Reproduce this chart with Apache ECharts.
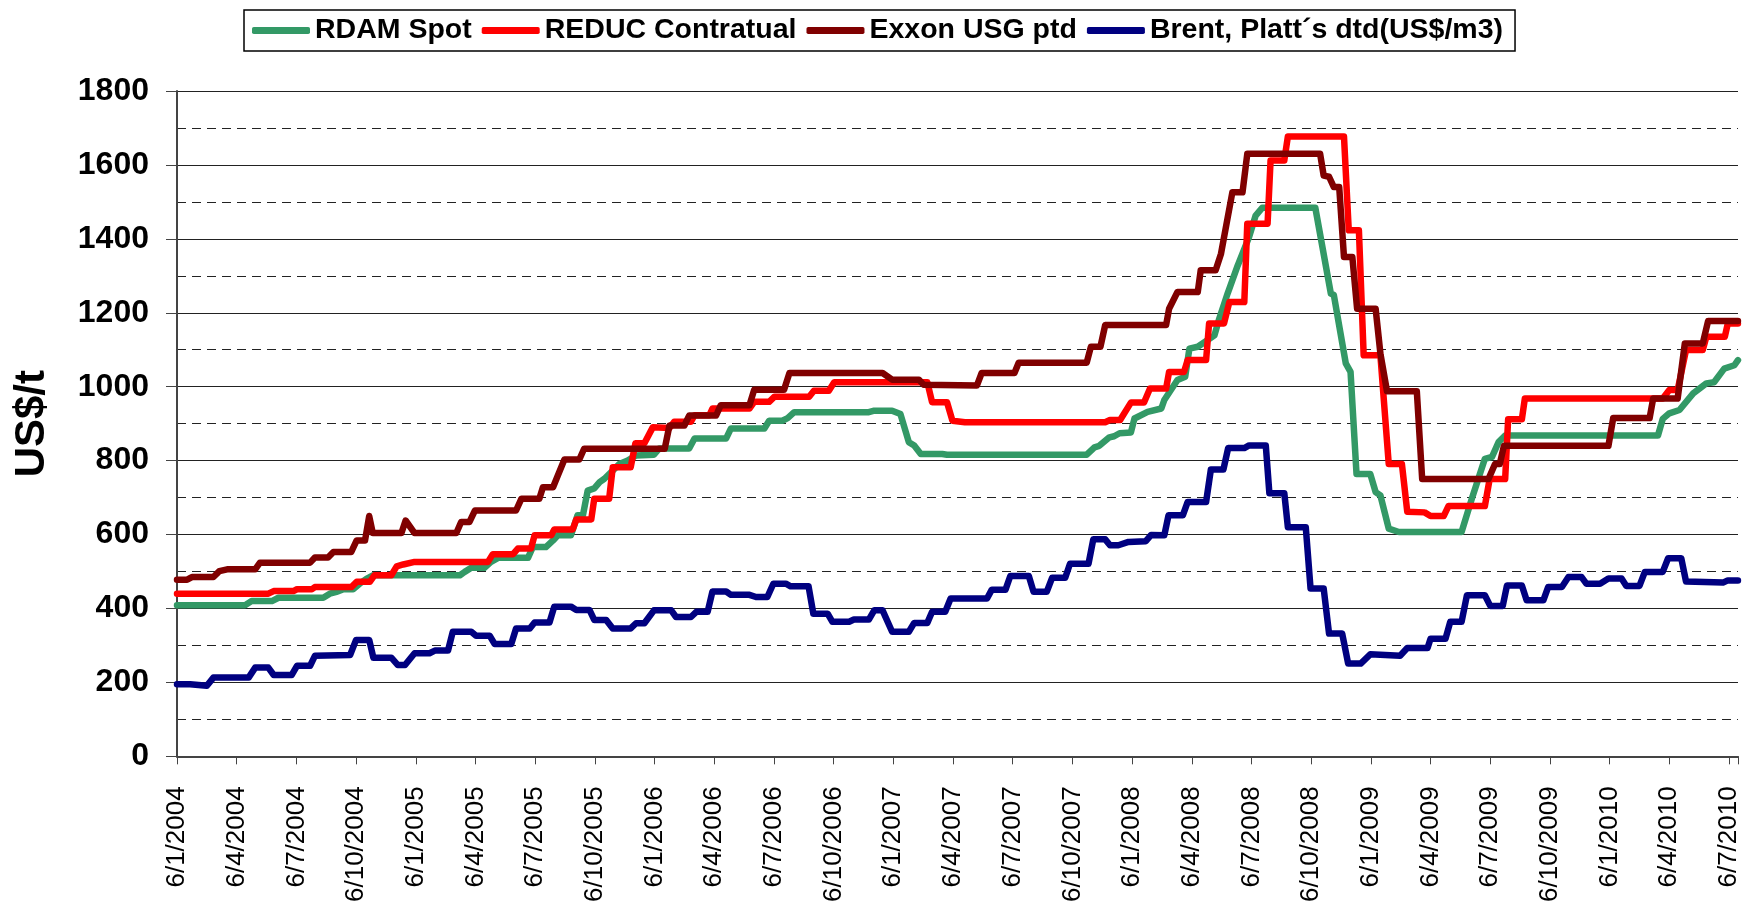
<!DOCTYPE html>
<html lang="en">
<head>
    <meta charset="UTF-8">
    <title>RDAM / REDUC / Exxon / Brent</title>
    <style>
        html,
        body,
        #chart {
            margin: 0px;
            padding: 0px;
            width: 100%;
            height: 100%;
            background: #fff;
        }
    </style>
</head>
<body>
    <div id="chart"></div>
    <script src="https://cdn.jsdelivr.net/npm/echarts@6/dist/echarts.min.js"></script>
    <script>
        // x is counted in quarters from 6/1/2004 (one tick per quarter)
        var tickLabels = [
            '6/1/2004', '6/4/2004', '6/7/2004', '6/10/2004',
            '6/1/2005', '6/4/2005', '6/7/2005', '6/10/2005',
            '6/1/2006', '6/4/2006', '6/7/2006', '6/10/2006',
            '6/1/2007', '6/4/2007', '6/7/2007', '6/10/2007',
            '6/1/2008', '6/4/2008', '6/7/2008', '6/10/2008',
            '6/1/2009', '6/4/2009', '6/7/2009', '6/10/2009',
            '6/1/2010', '6/4/2010', '6/7/2010'
        ];

        var seriesNames = ['RDAM Spot', 'REDUC Contratual', 'Exxon USG ptd', 'Brent, Platt´s dtd(US$/m3)'];
        var seriesColors = ['#339966', '#ff0000', '#800000', '#000080'];

        // [quarter, US$/t] at the points where the lines change
        var rdamSpot = [
            [0, 409], [1.14, 409], [1.25, 420], [1.59, 420], [1.70, 429], [2.45, 429], [2.56, 440], [2.67, 445],
            [2.79, 452], [2.95, 452], [3.06, 467], [3.18, 481], [3.29, 490], [4.74, 490], [4.82, 499], [4.93, 510],
            [5.15, 510], [5.26, 526], [5.38, 537], [5.88, 537], [5.96, 566], [6.18, 566], [6.30, 584], [6.38, 598],
            [6.60, 598], [6.71, 652], [6.80, 652], [6.88, 719], [6.99, 725], [7.08, 742], [7.16, 751], [7.30, 773],
            [7.41, 791], [7.55, 800], [7.69, 814], [7.99, 816], [8.08, 833], [8.58, 833], [8.67, 860], [9.20, 860],
            [9.28, 887], [9.84, 887], [9.92, 908], [10.14, 908], [10.23, 915], [10.34, 931], [11.59, 931], [11.68, 935],
            [11.98, 935], [12.12, 926], [12.26, 850], [12.35, 841], [12.46, 818], [12.82, 818], [12.90, 816], [15.24, 816],
            [15.37, 836], [15.45, 840], [15.62, 863], [15.70, 866], [15.79, 874], [15.98, 876], [16.04, 914], [16.26, 932],
            [16.49, 941], [16.54, 964], [16.76, 1018], [16.89, 1027], [16.96, 1103], [17.10, 1108], [17.38, 1139], [17.46, 1184],
            [17.60, 1252], [17.77, 1328], [17.96, 1405], [18.07, 1463], [18.18, 1484], [19.07, 1484], [19.33, 1252], [19.38, 1248],
            [19.58, 1063], [19.66, 1040], [19.76, 764], [19.99, 764], [20.08, 715], [20.16, 706], [20.30, 616], [20.47, 607],
            [21.52, 607], [21.69, 696], [21.91, 805], [22.03, 810], [22.14, 850], [22.25, 868], [24.81, 868], [24.89, 913],
            [25.00, 928], [25.17, 937], [25.40, 982], [25.62, 1009], [25.75, 1012], [25.92, 1049], [26.09, 1058], [26.15, 1072]
        ];

        var reducContratual = [
            [0, 440], [1.53, 440], [1.62, 447], [1.95, 447], [2.01, 452], [2.26, 452], [2.31, 458], [2.92, 458],
            [3.01, 472], [3.23, 472], [3.31, 490], [3.59, 490], [3.68, 514], [3.79, 519], [3.98, 526], [5.21, 526],
            [5.29, 547], [5.63, 547], [5.71, 562], [5.93, 562], [5.99, 598], [6.27, 598], [6.32, 614], [6.63, 614],
            [6.69, 641], [6.94, 641], [6.99, 697], [7.24, 697], [7.30, 782], [7.60, 782], [7.68, 847], [7.83, 847],
            [7.97, 890], [8.25, 888], [8.33, 905], [8.61, 905], [8.67, 923], [8.92, 923], [8.97, 941], [9.59, 941],
            [9.67, 959], [9.92, 959], [10.01, 973], [10.59, 973], [10.67, 989], [10.92, 989], [11.01, 1012], [12.57, 1012],
            [12.65, 958], [12.90, 958], [12.99, 908], [13.20, 904], [15.55, 904], [15.63, 910], [15.80, 910], [15.98, 957],
            [16.20, 957], [16.30, 995], [16.57, 995], [16.62, 1040], [16.87, 1040], [16.93, 1072], [17.24, 1072], [17.29, 1171],
            [17.54, 1171], [17.63, 1229], [17.88, 1229], [17.93, 1441], [18.27, 1441], [18.32, 1612], [18.55, 1612], [18.61, 1677],
            [19.55, 1677], [19.63, 1423], [19.80, 1423], [19.88, 1085], [20.16, 1085], [20.30, 791], [20.52, 791], [20.61, 662],
            [20.90, 660], [21.00, 650], [21.22, 650], [21.30, 677], [21.91, 677], [21.99, 750], [22.25, 750], [22.30, 912],
            [22.53, 912], [22.58, 968], [24.89, 968], [25.00, 991], [25.14, 991], [25.28, 1099], [25.56, 1099], [25.62, 1135],
            [25.93, 1135], [25.98, 1171], [26.15, 1171]
        ];

        var exxonUsg = [
            [0, 478], [0.17, 478], [0.25, 485], [0.61, 485], [0.71, 501], [0.84, 506], [1.31, 506], [1.39, 524],
            [2.23, 524], [2.31, 538], [2.53, 538], [2.62, 553], [2.92, 553], [3.01, 584], [3.15, 584], [3.22, 650],
            [3.28, 604], [3.76, 604], [3.83, 638], [3.98, 604], [4.68, 604], [4.76, 634], [4.90, 634], [4.99, 665],
            [5.68, 665], [5.77, 697], [6.07, 697], [6.13, 728], [6.30, 728], [6.38, 760], [6.49, 803], [6.74, 803],
            [6.82, 832], [8.17, 832], [8.25, 895], [8.50, 895], [8.58, 922], [9.03, 922], [9.11, 950], [9.59, 950],
            [9.67, 992], [10.17, 992], [10.26, 1037], [11.82, 1037], [11.98, 1019], [12.43, 1019], [12.51, 1005], [13.40, 1003],
            [13.48, 1037], [14.03, 1037], [14.10, 1065], [15.24, 1065], [15.31, 1108], [15.47, 1108], [15.55, 1167], [16.57, 1167],
            [16.62, 1211], [16.76, 1256], [17.10, 1256], [17.15, 1315], [17.40, 1315], [17.49, 1360], [17.68, 1526], [17.85, 1526],
            [17.93, 1630], [19.15, 1630], [19.21, 1571], [19.30, 1568], [19.38, 1540], [19.47, 1540], [19.55, 1351], [19.69, 1351],
            [19.77, 1211], [20.08, 1211], [20.16, 1090], [20.27, 988], [20.77, 988], [20.86, 750], [21.97, 750], [22.08, 791],
            [22.16, 791], [22.23, 840], [23.98, 840], [24.06, 915], [24.67, 915], [24.73, 968], [25.14, 968], [25.26, 1117],
            [25.56, 1117], [25.65, 1178], [26.15, 1178]
        ];

        var brentDtd = [
            [0, 195], [0.22, 195], [0.50, 191], [0.61, 213], [1.20, 213], [1.31, 240], [1.53, 240], [1.62, 220],
            [1.92, 220], [2.01, 245], [2.23, 245], [2.31, 272], [2.90, 274], [3.00, 315], [3.22, 315], [3.29, 267],
            [3.59, 267], [3.70, 247], [3.82, 247], [3.98, 279], [4.23, 279], [4.32, 286], [4.54, 286], [4.62, 337],
            [4.93, 337], [5.01, 326], [5.24, 326], [5.32, 304], [5.60, 304], [5.68, 346], [5.91, 346], [5.99, 362],
            [6.24, 362], [6.32, 405], [6.60, 405], [6.69, 396], [6.91, 396], [6.99, 369], [7.19, 369], [7.30, 346],
            [7.60, 346], [7.69, 360], [7.83, 360], [7.99, 395], [8.28, 395], [8.36, 377], [8.61, 377], [8.70, 391],
            [8.89, 391], [8.97, 446], [9.20, 446], [9.28, 437], [9.59, 437], [9.70, 431], [9.89, 431], [9.99, 467],
            [10.20, 467], [10.28, 460], [10.58, 460], [10.66, 386], [10.90, 386], [10.98, 364], [11.26, 364], [11.34, 370],
            [11.59, 370], [11.68, 395], [11.82, 395], [11.98, 337], [12.26, 337], [12.35, 361], [12.57, 361], [12.65, 391],
            [12.87, 391], [12.96, 427], [13.57, 427], [13.65, 451], [13.88, 451], [13.96, 488], [14.27, 488], [14.35, 445],
            [14.57, 445], [14.66, 483], [14.88, 483], [14.96, 521], [15.27, 521], [15.35, 587], [15.55, 587], [15.63, 571],
            [15.77, 571], [15.94, 580], [16.23, 582], [16.32, 599], [16.54, 598], [16.61, 652], [16.85, 652], [16.93, 688],
            [17.24, 688], [17.32, 776], [17.53, 776], [17.61, 834], [17.88, 834], [17.96, 841], [18.24, 841], [18.30, 712],
            [18.55, 712], [18.61, 620], [18.91, 620], [18.99, 454], [19.21, 454], [19.30, 332], [19.52, 332], [19.62, 251],
            [19.83, 251], [19.99, 276], [20.49, 272], [20.61, 293], [20.95, 293], [21.00, 318], [21.25, 318], [21.33, 364],
            [21.52, 364], [21.61, 436], [21.91, 436], [22.00, 407], [22.21, 407], [22.28, 462], [22.53, 462], [22.61, 422],
            [22.89, 422], [22.97, 458], [23.20, 458], [23.31, 485], [23.53, 485], [23.61, 467], [23.84, 467], [23.98, 481],
            [24.20, 481], [24.28, 461], [24.50, 461], [24.59, 499], [24.89, 499], [24.98, 536], [25.20, 536], [25.28, 473],
            [25.90, 470], [25.98, 476], [26.15, 476]
        ];

        var seriesData = [rdamSpot, reducContratual, exxonUsg, brentDtd];

        var font = "'Liberation Sans', Arial, sans-serif";
        var myChart = echarts.init(document.getElementById('chart'));

        var series = [];
        for (var i = 0; i < seriesNames.length; i++) {
            series.push({
                name: seriesNames[i],
                type: 'line',
                data: seriesData[i],
                symbol: 'none',
                showSymbol: false,
                yAxisIndex: 0,
                itemStyle: { color: seriesColors[i] },
                lineStyle: { color: seriesColors[i], width: 6.5, join: 'round', cap: 'round' }
            });
        }

        myChart.setOption({
            animation: false,
            backgroundColor: '#fff',
            legend: {
                left: 244,
                top: 10,
                padding: [6, 12, 6, 8],
                icon: 'roundRect',
                itemWidth: 58,
                itemHeight: 7,
                itemGap: 10,
                borderColor: '#000',
                borderWidth: 1.5,
                textStyle: { fontFamily: font, fontSize: 28.5, fontWeight: 'bold', color: '#000' },
                data: seriesNames
            },
            grid: {
                left: 177,
                right: 0,
                top: 91,
                bottom: 147
            },
            xAxis: {
                type: 'value',
                min: 0,
                max: 26.15,
                interval: 1,
                axisLine: { show: true, lineStyle: { color: '#444', width: 2 } },
                axisTick: { show: true, length: 8, lineStyle: { color: '#444', width: 1 } },
                axisLabel: {
                    rotate: 90,
                    margin: 30,
                    fontFamily: font,
                    fontSize: 26,
                    color: '#000',
                    formatter: function (v) {
                        var k = Math.round(v);
                        return Math.abs(v - k) < 1e-6 ? (tickLabels[k] || '') : '';
                    }
                },
                splitLine: { show: false }
            },
            yAxis: [{
                type: 'value',
                min: 0,
                max: 1800,
                interval: 200,
                name: 'US$/t',
                nameLocation: 'middle',
                nameGap: 124,
                nameTextStyle: { fontFamily: font, fontSize: 42, fontWeight: 'bold', color: '#000' },
                axisLine: { show: true, lineStyle: { color: '#444', width: 2 } },
                axisTick: { show: true, length: 11, lineStyle: { color: '#444', width: 1 } },
                axisLabel: {
                    margin: 28,
                    fontFamily: font,
                    fontSize: 32,
                    fontWeight: 'bold',
                    color: '#000',
                    formatter: function (v) { return String(v); }
                },
                splitLine: { show: true, lineStyle: { color: '#222', width: 1 } }
            }, {
                type: 'value',
                min: 0,
                max: 1800,
                interval: 100,
                axisLine: { show: false },
                axisTick: { show: false },
                axisLabel: { show: false },
                splitLine: { show: true, lineStyle: { color: '#222', width: 1, type: [9, 6] } }
            }],
            series: series
        });

        window.addEventListener('resize', function () {
            myChart.resize();
        });
    </script>
</body>
</html>
